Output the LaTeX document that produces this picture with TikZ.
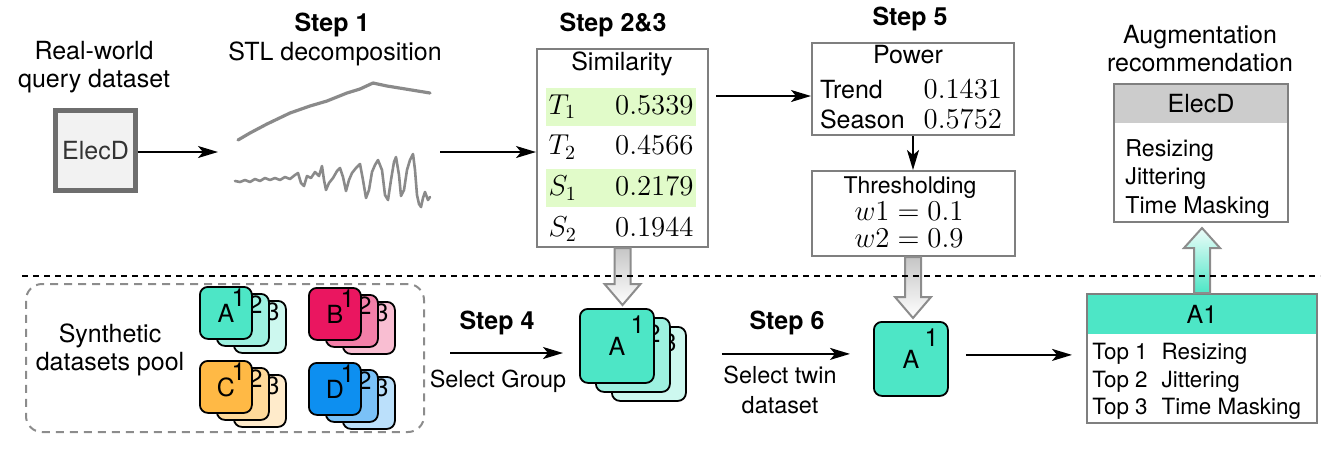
\documentclass[tikz,border=0pt]{standalone}
\usepackage[no-math]{fontspec}
\setmainfont{TeX Gyre Heros}
\usetikzlibrary{arrows.meta, positioning, calc}
\definecolor{QueryEdge}{HTML}{6E6E6E}
\definecolor{QueryFill}{HTML}{F2F2F2}
\definecolor{BoxGray}{HTML}{7F7F7F}
\definecolor{HiGreen}{HTML}{E1FBC9}
\definecolor{HeadGray}{HTML}{CCCCCC}
\definecolor{Turq}{HTML}{4DE6C6}
\definecolor{Crimson}{HTML}{EA1660}
\definecolor{Amber}{HTML}{FFB945}
\definecolor{Azure}{HTML}{0D8FF0}
\definecolor{CurveGray}{HTML}{8A8A8A}
\definecolor{PoolGray}{HTML}{8C8C8C}
\definecolor{ArrowGray}{HTML}{8C8C8C}

\newcommand{\valtext}[1]{{\fontsize{14.5}{16}\selectfont$#1$}}
% stack of three cards: name, x, y, letter, colour, size, dx, dy, number style
\newcommand{\cardstack}[9]{%
  \foreach \k/\tint in {3/28,2/55,1/100}{%
    \node[card, fill=#5!\tint, minimum size=#6] (#1\k) at ({#2+(\k-1)*#7},{#3+(\k-1)*#8}) {};
    \node[#9] (#1n\k) at (#1\k.north east) {\k};
  }
  \node[cardtxt] (#1l) at (#11.center) {#4};
}
% hollow block arrow: from, to, style, signed head length
\newcommand{\hollowarrow}[4]{%
  \path[#3] let \p1=(#1), \p2=(#2) in
    (\x1-4pt,\y1) -- (\x1-4pt,\y2#4) -- (\x1-9pt,\y2#4) -- (\x1,\y2)
    -- (\x1+9pt,\y2#4) -- (\x1+4pt,\y2#4) -- (\x1+4pt,\y1) -- cycle;
}

\begin{document}
\begin{tikzpicture}[x=0.5pt, y=-0.5pt, font=\fontsize{12.5}{14}\selectfont,
  box/.style={draw=BoxGray, line width=1pt, fill=white, inner sep=0pt},
  conn/.style={-{Stealth[length=10pt, width=6pt, inset=2.5pt]}, line width=0.9pt},
  card/.style={draw=black, line width=0.9pt, rounded corners=4pt, anchor=north west, inner sep=0pt},
  cardnum/.style={anchor=north east, inner sep=0pt, xshift=-3.5pt, yshift=-1pt},
  bignum/.style={anchor=north east, inner sep=0pt, xshift=-5pt, yshift=-3.5pt},
  cardtxt/.style={inner sep=0pt},
  steplbl/.style={anchor=base, font=\fontsize{12.5}{14}\selectfont\bfseries},
  mathrow/.style={inner xsep=1.25pt, inner ysep=0pt, text width=72.5pt, align=left,
    minimum height=19pt, font=\fontsize{14}{16}\selectfont},
  valrow/.style={inner sep=0pt, text width=91pt, align=left, anchor=base},
  curve/.style={draw=CurveGray, line join=round, line cap=round},
  hollow/.style={draw=ArrowGray, line width=1pt, top color=gray!45, bottom color=white},
  hollowup/.style={draw=ArrowGray, line width=1pt, top color=Turq!10, bottom color=Turq}]
\useasboundingbox (0,0) rectangle (1329,452);

% query dataset
\node[align=center] (qlbl) at (94,67.5) {Real-world\\query dataset};
\node[draw=QueryEdge, line width=2.2pt, fill=QueryFill, minimum size=40pt, inner sep=0pt,
  text=black!80] (query) at (95.5,150.5) {ElecD};

% Step 1
\node[steplbl] (step1) at (332,31) {Step 1};
\node[anchor=base] (stl) at (335,60) {STL decomposition};
\draw[curve, line width=1.6pt] plot coordinates {(238,140) (250,133) (267,124) (290,113)
  (310,106) (327,101) (347,93) (360,89) (373,83) (387,86) (430,93)};
\draw[curve, line width=1.3pt] plot coordinates {(235,181) (240,182) (245,180) (250,182)
  (255,179) (260,181) (265,178) (270,180) (275,178) (280,180) (285,177) (290,179) (295,175)
  (298,173) (301,183) (304,186) (307,176) (311,178) (315,172) (319,176) (322,166) (324,180)
  (326,190) (329,183) (333,178) (337,171) (340,168) (343,177) (346,191) (349,180) (352,173)
  (356,168) (360,164) (363,180) (366,198) (369,190) (372,172) (375,165) (378,160) (382,170)
  (385,195) (388,200) (391,180) (394,162) (396,157) (399,175) (401,196) (404,190) (407,170)
  (410,160) (413,154) (415,170) (417,195) (419,204) (421,207) (423,198) (425,192) (428,200)
  (430,197)};
\coordinate (stlin) at (218,152);
\coordinate (stlout) at (440,152);
\draw[conn] (query.east |- stlin) -- (stlin);

% Step 2&3
\node[steplbl] (step23) at (613,31) {Step 2\&3};
\node[box, minimum width=85.5pt, minimum height=99pt] (sim) at (622.5,148) {};
\node[anchor=base] (simt) at (622,70) {Similarity};
\node[mathrow, fill=HiGreen] (t1) at (621,106.5) {$T_1$\hfill$0.5339$};
\node[mathrow] (t2) at (621,147) {$T_2$\hfill$0.4566$};
\node[mathrow, fill=HiGreen] (s1) at (621,188) {$S_1$\hfill$0.2179$};
\node[mathrow] (s2) at (621,229) {$S_2$\hfill$0.1944$};
\draw[conn] (stlout) -- (stlout -| sim.west);

% Step 5
\node[steplbl] (step5) at (910,25) {Step 5};
\node[box, minimum width=101pt, minimum height=46pt] (pow) at (913,89) {};
\node[anchor=base] (powt) at (908,63) {Power};
\node[valrow] (trend) at (911,98) {Trend\hfill\valtext{0.1431}};
\node[valrow] (season) at (911,128) {Season\hfill\valtext{0.5752}};
\draw[conn] ($(sim.east |- pow.west)+(7,7)$) -- ($(pow.west)+(0,7)$);

\node[box, minimum width=101.5pt, minimum height=42.5pt] (thr) at (913,213.5) {};
\node[anchor=base, font=\fontsize{11.5}{14}\selectfont] (thrt) at (910,193) {Thresholding};
\node[anchor=base, font=\fontsize{14}{16}\selectfont] (w1) at (909,220) {$w1 = 0.1$};
\node[anchor=base, font=\fontsize{14}{16}\selectfont] (w2) at (909,247) {$w2 = 0.9$};
\draw[conn] (pow.south) -- (thr.north);

% recommendation
\node[align=center] (auglbl) at (1200,48.5) {Augmentation\\recommendation};
\node[box, minimum width=87pt, minimum height=69pt] (rec) at (1201,153) {};
\node[fill=HeadGray, minimum width=86pt, minimum height=19pt, inner sep=0pt] (rech) at (1201,104) {ElecD};
\node[anchor=north west, inner sep=0pt, align=left, font=\fontsize{11.6}{14.25}\selectfont]
  (recl) at (1125,139) {Resizing\\Jittering\\Time Masking};

% synthetic pool
\node[draw=PoolGray, line width=1pt, dash pattern=on 4pt off 3pt, rounded corners=8pt,
  minimum width=199pt, minimum height=74pt, inner sep=0pt] (pool) at (225,358) {};
\node[align=center] (poollbl) at (110,349.5) {Synthetic\\datasets pool};
\cardstack{sa}{199}{286}{A}{Turq}{26pt}{17}{7}{cardnum}
\cardstack{sb}{308}{287}{B}{Crimson}{26pt}{17}{7}{cardnum}
\cardstack{sc}{199}{360}{C}{Amber}{26pt}{17}{7}{cardnum}
\cardstack{sd}{308}{362}{D}{Azure}{26pt}{17}{7}{cardnum}

% Step 4
\node[steplbl] (step4) at (497,329) {Step 4};
\node[anchor=base, font=\fontsize{11.7}{14}\selectfont] (selg) at (498,387) {Select Group};
\cardstack{grp}{579}{308}{A}{Turq}{37pt}{16}{9}{bignum}
\draw[conn] ($(pool.east)+(25,-5)$) -- ($(grp1.west |- pool.east)+(-16,-5)$);

% Step 6
\node[steplbl] (step6) at (787,329) {Step 6};
\node[align=center, font=\fontsize{11.7}{15}\selectfont] (selt) at (780,389.5) {Select twin\\dataset};
\node[card, fill=Turq, minimum size=37pt] (twin) at (873,321) {};
\node[bignum] (twinn) at (twin.north east) {1};
\node[cardtxt] (twinl) at (twin.center) {A};
\draw[conn] ($(grp3.east |- twin.west)+(35,-5)$) -- ($(twin.west)+(-23,-5)$);

% twin result
\node[box, minimum width=115pt, minimum height=64.5pt] (a1) at (1202,358.5) {};
\node[fill=Turq, minimum width=114pt, minimum height=19.5pt, inner sep=0pt] (a1h) at (1202,314.5) {A1};
\node[anchor=north west, inner sep=0pt, font=\fontsize{11.2}{13.75}\selectfont] (a1l) at (1092,340)
  {\begin{tabular}{@{}l@{\hspace{7pt}}l@{}}Top 1 & Resizing\\ Top 2 & Jittering\\ Top 3 & Time Masking\end{tabular}};
\draw[conn] ($(twin.east)+(17,-4)$) -- ($(a1.west |- twin.east)+(-14,-4)$);

% block arrows
\hollowarrow{sim.south}{$(grp1.north)+(0,-3)$}{hollow}{+10.5pt}
\hollowarrow{thr.south}{$(twin.north)+(0,-3)$}{hollow}{+10.5pt}
\hollowarrow{a1.north}{$(rec.south)+(0,5)$}{hollowup}{-10pt}

% separator
\coordinate (sepl) at (22,276);
\coordinate (sepr) at (1320,276);
\draw[line width=0.8pt, dash pattern=on 3pt off 2.5pt] (sepl) -- (sepr);
\end{tikzpicture}
\end{document}
